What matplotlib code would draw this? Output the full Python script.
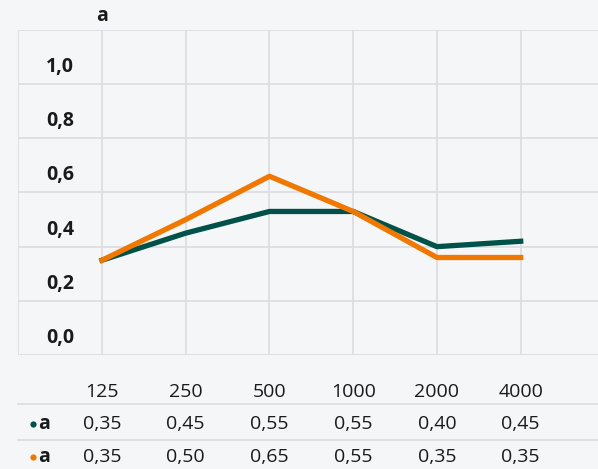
import matplotlib.pyplot as plt
import matplotlib.transforms as mtransforms

plt.rcParams["font.family"] = ["Open Sans", "DejaVu Sans"]

# data
freqs = ["125", "250", "500", "1000", "2000", "4000"]
series_names = ["a", "a"]
green_vals = [0.35, 0.45, 0.53, 0.53, 0.40, 0.42]
orange_vals = [0.35, 0.50, 0.66, 0.53, 0.36, 0.36]
green_table = ["0,35", "0,45", "0,55", "0,55", "0,40", "0,45"]
orange_table = ["0,35", "0,50", "0,65", "0,55", "0,35", "0,35"]
y_ticks = [0.0, 0.2, 0.4, 0.6, 0.8, 1.0]
y_tick_labels = ["0,0", "0,2", "0,4", "0,6", "0,8", "1,0"]

BG = "#f4f6f8"
GRID = "#dcdee2"
TEXT = "#1a1a1a"
GREEN = "#00514a"
ORANGE = "#f07800"
FS = 14

W, H = 598, 469
fig = plt.figure(figsize=(W / 100, H / 100), dpi=100, facecolor=BG)

# plot area in pixel terms
left_px, right_px, top_px, bottom_px = 18.26, 598, 30, 355
ax = fig.add_axes([left_px / W, 1 - bottom_px / H,
                   (right_px - left_px) / W, (bottom_px - top_px) / H])
ax.set_facecolor(BG)
step = 83.74
ax.set_xlim(-1, -1 + (right_px - left_px) / step)
ax.set_ylim(0, 1.2)
for s in ax.spines.values():
    s.set_visible(False)
ax.set_xticks([])
ax.set_yticks([])

x = list(range(len(freqs)))
for xv in range(-1, len(freqs) + 1):
    ax.axvline(xv, color=GRID, lw=1.3, zorder=0)
for yv in [0.0, 0.2, 0.4, 0.6, 0.8, 1.0, 1.2]:
    ax.axhline(yv, color=GRID, lw=1.3, zorder=0)

ax.plot(x, green_vals, color=GREEN, lw=3.8, solid_capstyle="projecting", zorder=3)
ax.plot(x, orange_vals, color=ORANGE, lw=3.8, solid_capstyle="projecting", zorder=4)

label_x = -1 + (74 - left_px) / step
for v, lab in zip(y_ticks, y_tick_labels):
    ax.text(label_x, v + 0.063, lab, ha="right", va="center",
            fontsize=FS, fontweight="bold", color=TEXT)

fig.text(102 / W, 1 - 16 / H, "a", ha="center", va="center",
         fontsize=FS, fontweight="bold", color=TEXT)

# table below the chart
blend = mtransforms.blended_transform_factory(ax.transData, fig.transFigure)
row_y = [1 - 392 / H, 1 - 424 / H, 1 - 457 / H]
for xi, f in zip(x, freqs):
    fig.text(xi, row_y[0], f, transform=blend, ha="center", va="center",
             fontsize=FS, color=TEXT)
for xi, g, o in zip(x, green_table, orange_table):
    fig.text(xi, row_y[1], g, transform=blend, ha="center", va="center",
             fontsize=FS, color=TEXT)
    fig.text(xi, row_y[2], o, transform=blend, ha="center", va="center",
             fontsize=FS, color=TEXT)

for yy in [1 - 404 / H, 1 - 439.5 / H]:
    fig.add_artist(plt.Line2D([left_px / W, 1], [yy, yy], color=GRID, lw=1.3,
                              transform=fig.transFigure))

for yy, col, name in zip(row_y[1:], [GREEN, ORANGE], series_names):
    fig.add_artist(plt.Line2D([33.3 / W], [yy], marker="o", markersize=4.5,
                              color=col, markeredgewidth=0,
                              transform=fig.transFigure))
    fig.text(38.5 / W, yy, name, ha="left", va="center", fontsize=FS,
             fontweight="bold", color=TEXT)

fig.savefig("out.png", dpi=100, facecolor=BG)
